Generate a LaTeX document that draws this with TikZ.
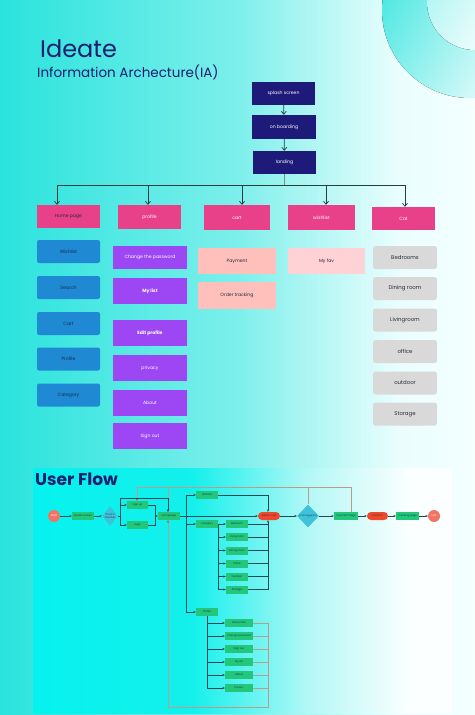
\documentclass[tikz,border=0pt]{standalone}
\usepackage{fontspec}
\setmainfont{Poppins}
\usetikzlibrary{arrows.meta,shapes.geometric}
\definecolor{navyb}{HTML}{1D1A7A}
\definecolor{titlec}{HTML}{1B1F6E}
\definecolor{pinkc}{HTML}{E8418A}
\definecolor{bluec}{HTML}{2089D3}
\definecolor{purplec}{HTML}{9C46F4}
\definecolor{salmonc}{HTML}{FFC0BC}
\definecolor{favc}{HTML}{FFD2D6}
\definecolor{greyc}{HTML}{D9D9D9}
\definecolor{darktext}{HTML}{2A2A3A}
\definecolor{bluetext}{HTML}{1A2A50}
\definecolor{iadark}{HTML}{23403E}
\definecolor{greenc}{HTML}{22C77A}
\definecolor{redc}{HTML}{F0472A}
\definecolor{startc}{HTML}{F07565}
\definecolor{diac}{HTML}{3EC3D9}
\definecolor{flowtext}{HTML}{173A55}
\definecolor{darkline}{HTML}{1B4A55}
\definecolor{tanc}{HTML}{B89C8C}
\definecolor{redarrow}{HTML}{D9473A}
\definecolor{bgA}{HTML}{2AE3DD}
\definecolor{bgB}{HTML}{7DEFEB}
\definecolor{bgC}{HTML}{EAFEFD}
\definecolor{bgD}{HTML}{F4FFFF}
\definecolor{pnA}{HTML}{06F2EE}
\definecolor{pnB}{HTML}{14F0EC}
\definecolor{pnC}{HTML}{B4F8F6}
\definecolor{pnD}{HTML}{FCFFFF}
\pgfdeclarehorizontalshading{bgshade}{100bp}{color(0bp)=(bgA); color(25bp)=(bgA); color(50bp)=(bgB); color(67bp)=(bgC); color(75bp)=(bgD); color(100bp)=(bgD)}
\pgfdeclarehorizontalshading{panelshade}{100bp}{color(0bp)=(pnA); color(25bp)=(pnA); color(44bp)=(pnB); color(58bp)=(pnC); color(70bp)=(pnD); color(100bp)=(pnD)}
\begin{document}
\begin{tikzpicture}[x=1pt,y=-1pt,
 ia/.style={inner sep=0pt, minimum width=63pt, minimum height=23pt, font=\fontsize{4.6}{5}\selectfont, align=center},
 lvlone/.style={ia, fill=navyb, text=white},
 pinkbox/.style={ia, fill=pinkc},
 bluebox/.style={ia, fill=bluec, rounded corners=2pt, text=bluetext},
 purplebox/.style={ia, fill=purplec, text=white, minimum width=74pt, minimum height=25pt},
 salmonbox/.style={ia, fill=salmonc, text=darktext, minimum width=78pt, minimum height=26pt},
 greybox/.style={ia, fill=greyc, rounded corners=2.5pt, minimum width=64pt, text=darktext, font=\fontsize{5.4}{6}\selectfont},
 fl/.style={fill=greenc, inner sep=0pt, minimum width=22pt, minimum height=8pt, font=\fontsize{2.6}{3}\selectfont, text=flowtext},
 pill/.style={fl, fill=redc, rounded corners=4pt},
 term/.style={circle, fill=startc, minimum size=12pt, inner sep=0pt, font=\fontsize{2.6}{3}\selectfont, text=white},
 dia/.style={diamond, fill=diac, inner sep=0pt},
 dk/.style={draw=darkline, line width=0.7pt},
 dka/.style={dk, -{Stealth[length=2.4pt,width=2.2pt]}},
 tanl/.style={draw=tanc, line width=0.9pt},
 tana/.style={tanl, -{Stealth[length=2.6pt,width=2.4pt,color=redarrow]}},
 iaarrow/.style={draw=iadark, line width=0.7pt, -{Straight Barb[length=3pt,width=5pt]}},
 busline/.style={draw=iadark, line width=0.7pt}
]
\useasboundingbox (0,0) rectangle (474,715);
% backgrounds
\fill[shading=bgshade] (0,0) rectangle (474,715);
\fill[shading=axis, left color=bgA!85!white, right color=white, shading angle=60] (470,10) circle[radius=88];
\fill[shading=axis, left color=bgB!60!white, right color=white, shading angle=60] (475,2) circle[radius=48];
\fill[shading=panelshade] (33,468) rectangle (452,713);

% titles
\node[anchor=base west, inner sep=0pt, text=titlec, font=\fontsize{24}{24}\selectfont] (ideate) at (40,57) {Ideate};
\node[anchor=base west, inner sep=0pt, text=titlec, font=\fontsize{13.5}{14}\selectfont] (iatitle) at (37,77.5) {Information Archecture(IA)};
\node[anchor=base west, inner sep=0pt, text=titlec, font=\fontsize{17}{17}\selectfont\bfseries] (uftitle) at (35,485) {User Flow};

% IA top
\node[lvlone] (splash) at (283.5,93.5) {splash screen};
\node[lvlone, minimum width=64pt, minimum height=24pt] (onboard) at (284,127) {on boarding};
\node[lvlone] (landing) at (284.5,162.5) {landing};
\draw[iaarrow] (splash) -- (onboard);
\draw[iaarrow] (onboard) -- (landing);

% level 2
\node[pinkbox, text=darktext] (home) at (68.5,216.5) {Home page};
\node[pinkbox, text=white, minimum height=24pt] (profile) at (149.5,217) {profile};
\node[pinkbox, text=white, minimum width=66pt, minimum height=25pt] (cart) at (237,217.5) {cart};
\node[pinkbox, text=white, minimum width=67pt, minimum height=25pt] (wish) at (321.5,217.5) {wishlist};
\node[pinkbox, text=white] (cat) at (403.5,218.5) {Cat};

\coordinate (busL) at (284.5,185);
\coordinate (busA) at (57,185);
\coordinate (busB) at (148,185);
\coordinate (busC) at (242,185);
\coordinate (busD) at (326,185);
\coordinate (busE) at (405,185);
\draw[draw=iadark!60!white, line width=0.7pt] (landing.south) -- (busL);
\draw[busline] (busA) -- (busE);
\draw[iaarrow] (busA) -- (busA |- home.north);
\draw[iaarrow] (busB) -- (busB |- profile.north);
\draw[iaarrow] (busC) -- (busC |- cart.north);
\draw[iaarrow] (busD) -- (busD |- wish.north);
\draw[iaarrow] (busE) -- (busE |- cat.north);

% home column
\node[bluebox] (h1) at (68.5,251.5) {Wishlist};
\node[bluebox] (h2) at (68.5,287.5) {Search};
\node[bluebox] (h3) at (68.5,323.5) {Cart};
\node[bluebox] (h4) at (68.5,359) {Profile};
\node[bluebox] (h5) at (68.5,395) {Category};

% profile column
\node[purplebox, minimum height=23pt] (p1) at (150,257.5) {Change the password};
\node[purplebox, minimum height=26pt, font=\fontsize{4.6}{5}\selectfont\bfseries] (p2) at (150,291) {My list};
\node[purplebox, minimum height=26pt, font=\fontsize{4.6}{5}\selectfont\bfseries] (p3) at (150,333) {Edit profile};
\node[purplebox, minimum height=26pt] (p4) at (150,368) {privacy};
\node[purplebox, minimum height=26pt] (p5) at (150,403) {About};
\node[purplebox, minimum height=26pt] (p6) at (150,436) {Sign out};

% cart column
\node[salmonbox] (c1) at (237,261) {Payment};
\node[salmonbox, minimum height=27pt] (c2) at (237,295.5) {Order tracking};

% wishlist column
\node[salmonbox, fill=favc, minimum width=77pt] (w1) at (326.5,261) {My fav};

% cat column
\node[greybox] (k1) at (405,257.5) {Bedrooms};
\node[greybox] (k2) at (405,288.5) {Dining room};
\node[greybox] (k3) at (405,320) {Livingroom};
\node[greybox] (k4) at (405,351.5) {office};
\node[greybox] (k5) at (405,383) {outdoor};
\node[greybox] (k6) at (405,414) {Storage};

% ---------------- User flow ----------------
\node[term] (start) at (54,516) {Start};
\node[fl] (fsplash) at (83,516) {Splash screen};
\node[dia, minimum width=16pt, minimum height=20pt, label={[font=\fontsize{2.4}{2.9}\selectfont, text=flowtext, align=center]center:If he's a\\member}] (member) at (110,516) {};
\node[fl, minimum width=21pt] (signup) at (137.5,505) {Sign up};
\node[fl, minimum width=21pt] (login) at (137.5,525) {Login};
\node[fl] (homep) at (169,516) {Homepage};
\node[fl] (fwish) at (207,495) {Wishlist};
\node[fl] (fcat) at (207,524) {Category};
\node[fl] (fprof) at (207,612) {Profile};
\node[fl] (b1) at (237,524) {Bedroom};
\node[fl] (b2) at (237,537) {Livingroom};
\node[fl] (b3) at (237,550.5) {Dining room};
\node[fl] (b4) at (237,563.5) {Office};
\node[fl] (b5) at (237,576.5) {Outdoor};
\node[fl] (b6) at (237,589.5) {Storage};
\node[fl, minimum width=28pt] (q1) at (239,623) {Edit profile};
\node[fl, minimum width=28pt] (q2) at (239,636) {Change password};
\node[fl, minimum width=28pt] (q3) at (239,649) {Sign out};
\node[fl, minimum width=28pt] (q4) at (239,662) {My list};
\node[fl, minimum width=28pt] (q5) at (239,675) {About};
\node[fl, minimum width=28pt] (q6) at (239,688) {Privacy};
\node[pill] (addcart) at (269,516) {Add to Cart};
\node[dia, minimum width=22pt, minimum height=23pt, label={[font=\fontsize{2.4}{2.9}\selectfont, text=flowtext]center:Is he logged in}] (logged) at (308,516) {};
\node[fl, minimum width=24pt] (paypage) at (346,516) {Payment Page};
\node[pill, minimum width=21pt] (confirm) at (377.5,516) {Confirm};
\node[fl, minimum width=23pt] (track) at (407.5,516) {Tracking page};
\node[term] (endn) at (434,516) {End};

% coordinates
\coordinate (mx) at (120,516);
\coordinate (mtop) at (120,498);
\coordinate (hx) at (168,498);
\coordinate (sx) at (155,516);
\coordinate (bus) at (186,516);
\coordinate (cx) at (268,516);
\coordinate (tA) at (137,487);
\coordinate (tB) at (168,487);
\coordinate (tC) at (308,487);
\coordinate (tD) at (351,487);
\coordinate (lb) at (168,707);
\coordinate (rb) at (268,707);
\coordinate (pbus) at (207,616);

% tan lines (behind)
\draw[tanl] (tA) -- (tD);
\draw[tana] (tA) -- (tA |- signup.north);
\draw[tana] (tB) -- (tB |- homep.north);
\draw[tanl] (tC) -- (logged.north);
\draw[tanl] (tD) -- (tD |- paypage.north);
\draw[tanl] (q1.east) -- (q1.east -| rb);
\draw[tanl] (q2.east) -- (q2.east -| rb);
\draw[tanl] (q3.east) -- (q3.east -| rb);
\draw[tanl] (q4.east) -- (q4.east -| rb);
\draw[tanl] (q5.east) -- (q5.east -| rb);
\draw[tanl] (q6.east) -- (q6.east -| rb);
\draw[tanl] (rb |- q1.east) -- (rb) -- (lb);
\draw[tana] (lb) -- (lb |- homep.south);

% dark lines
\draw[dka] (start) -- (fsplash);
\draw[dka] (fsplash) -- (member);
\draw[dk] (member.east) -- (mx);
\draw[dk] (mtop) -- (mtop |- login.west);
\draw[dka] (mtop |- signup.west) -- (signup.west);
\draw[dka] (mtop |- login.west) -- (login.west);
\draw[dk] (mtop) -- (hx);
\draw[dka] (hx) -- (hx |- homep.north);
\draw[dk] (signup.east) -- (signup.east -| sx) -- (login.east -| sx) -- (login.east);
\draw[dka] (sx) -- (homep.west);
\draw[dka] (homep.east) -- (addcart.west);
\draw[dk] (bus |- fwish.west) -- (bus |- fprof.west);
\draw[dka] (bus |- fwish.west) -- (fwish.west);
\draw[dka] (bus |- fcat.west) -- (fcat.west);
\draw[dka] (bus |- fprof.west) -- (fprof.west);
\draw[dka] (fwish.east) -- (fwish.east -| cx) -- (addcart.north -| cx);
\draw[dk] (fcat.east) -- (fcat.east |- b6.west);
\draw[dka] (fcat.east) -- (b1.west);
\draw[dka] (fcat.east |- b2.west) -- (b2.west);
\draw[dka] (fcat.east |- b3.west) -- (b3.west);
\draw[dka] (fcat.east |- b4.west) -- (b4.west);
\draw[dka] (fcat.east |- b5.west) -- (b5.west);
\draw[dka] (fcat.east |- b6.west) -- (b6.west);
\draw[dk] (b1.east) -- (b1.east -| cx);
\draw[dk] (b2.east) -- (b2.east -| cx);
\draw[dk] (b3.east) -- (b3.east -| cx);
\draw[dk] (b4.east) -- (b4.east -| cx);
\draw[dk] (b5.east) -- (b5.east -| cx);
\draw[dk] (b6.east) -- (b6.east -| cx);
\draw[dka] (b6.east -| cx) -- (addcart.south -| cx);
\draw[dk] (pbus) -- (pbus |- q6.west);
\draw[dka] (pbus |- q1.west) -- (q1.west);
\draw[dka] (pbus |- q2.west) -- (q2.west);
\draw[dka] (pbus |- q3.west) -- (q3.west);
\draw[dka] (pbus |- q4.west) -- (q4.west);
\draw[dka] (pbus |- q5.west) -- (q5.west);
\draw[dka] (pbus |- q6.west) -- (q6.west);
\draw[dka] (addcart) -- (logged);
\draw[dka] (logged) -- (paypage);
\draw[dka] (paypage) -- (confirm);
\draw[dka] (confirm) -- (track);
\draw[dka] (track) -- (endn);
\end{tikzpicture}
\end{document}
